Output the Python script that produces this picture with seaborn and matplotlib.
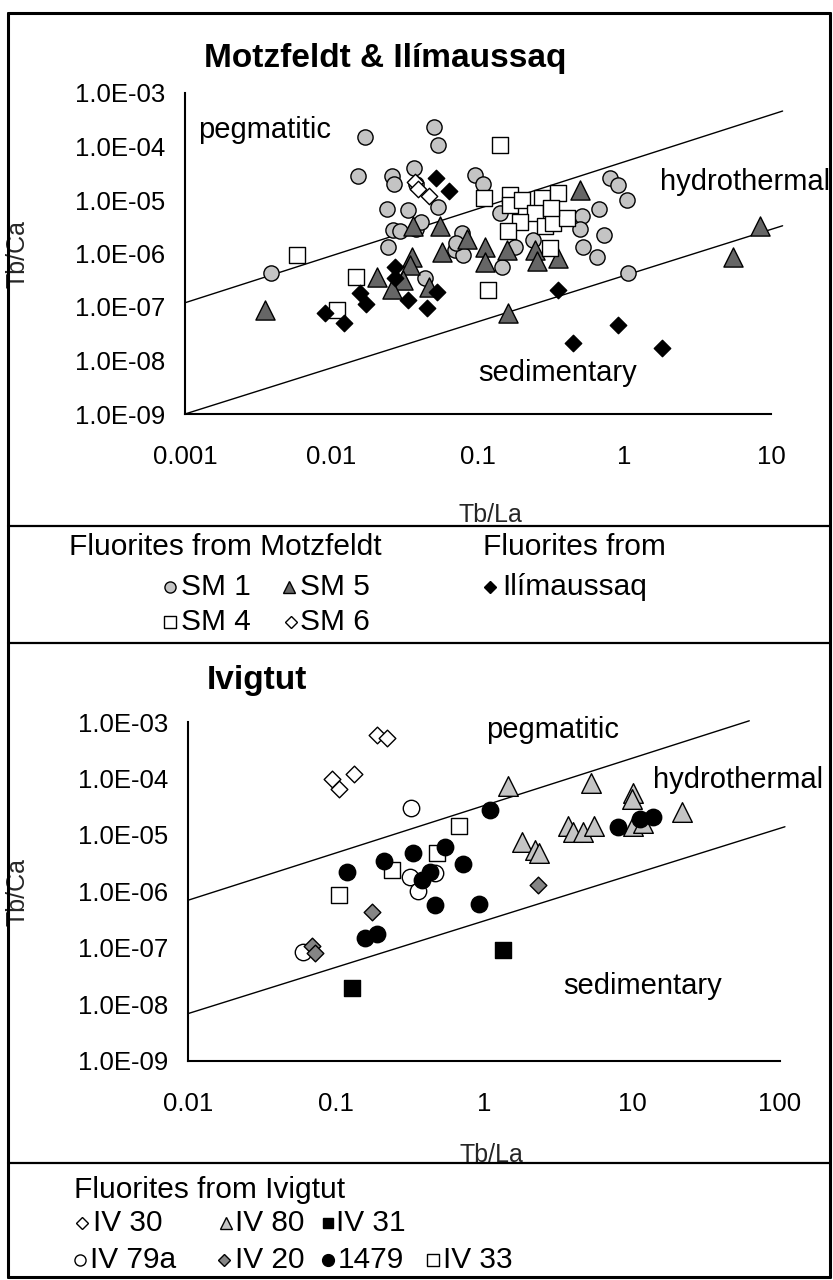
import numpy as np
import pandas as pd
import matplotlib
matplotlib.use("Agg")
import matplotlib.pyplot as plt
from matplotlib.lines import Line2D
from matplotlib.ticker import FixedLocator, FuncFormatter, NullLocator
import seaborn as sns

# ---------------- Motzfeldt & Ilímaussaq ----------------
sm1_x = [0.00386, 0.0168, 0.0151, 0.0503, 0.0536, 0.026, 0.0268, 0.0366, 0.0377, 0.0238,
         0.0334, 0.0264, 0.0294, 0.0244, 0.0377, 0.0536, 0.0773, 0.0697, 0.0794, 0.0955,
         0.109, 0.0435, 0.141, 0.796, 0.908, 1.035, 0.675, 0.51, 0.497, 0.724,
         0.524, 0.646, 1.06, 0.238, 0.145, 0.179, 0.041, 0.0713]
sm1_y = [4.3e-7, 1.5e-4, 2.8e-5, 2.3e-4, 1.07e-4, 2.8e-5, 2.0e-5, 3.9e-5, 2.0e-5, 6.7e-6,
         6.5e-6, 2.7e-6, 2.6e-6, 1.34e-6, 2.9e-6, 7.4e-6, 2.4e-6, 1.17e-6, 9.3e-7, 2.9e-5,
         2.0e-5, 3.5e-7, 5.6e-6, 2.6e-5, 1.9e-5, 1.0e-5, 6.9e-6, 5.0e-6, 2.9e-6, 2.2e-6,
         1.35e-6, 8.7e-7, 4.4e-7, 1.8e-6, 5.5e-7, 1.35e-6, 3.9e-6, 1.55e-6]

sm5_x = [0.00352, 0.0361, 0.055, 0.0838, 0.0565, 0.0353, 0.0343, 0.0204, 0.0309, 0.0258,
         0.0466, 0.112, 0.112, 0.497, 8.4, 5.5, 0.161, 0.157, 0.245, 0.251, 0.353]
sm5_y = [8.7e-8, 3.2e-6, 3.2e-6, 1.9e-6, 1.07e-6, 8.7e-7, 6.1e-7, 3.7e-7, 3.2e-7, 2.2e-7,
         2.4e-7, 1.35e-6, 7.0e-7, 1.55e-5, 3.2e-6, 8.7e-7, 7.6e-8, 1.17e-6, 1.17e-6, 7.1e-7, 8.1e-7]

sm4_x = [0.00578, 0.0147, 0.0109, 0.141, 0.11, 0.165, 0.165, 0.199, 0.272, 0.353,
         0.245, 0.194, 0.161, 0.286, 0.323, 0.403, 0.31, 0.117, 0.317]
sm4_y = [9.3e-7, 3.7e-7, 8.7e-8, 1.07e-4, 1.07e-5, 1.23e-5, 8.1e-6, 1.0e-5, 1.07e-5, 1.34e-5,
         5.6e-6, 3.9e-6, 2.6e-6, 3.2e-6, 3.7e-6, 4.6e-6, 1.26e-6, 2.1e-7, 7.0e-6]

sm6_x = [0.037, 0.039, 0.046]
sm6_y = [2.2e-5, 1.6e-5, 1.2e-5]

ili_x = [0.00904, 0.0122, 0.0157, 0.0172, 0.0271, 0.027, 0.0334, 0.0451, 0.0523, 0.0516,
         0.0637, 0.353, 0.908, 0.443, 1.79]
ili_y = [7.6e-8, 5.0e-8, 1.8e-7, 1.15e-7, 5.6e-7, 3.5e-7, 1.35e-7, 9.5e-8, 1.9e-7, 2.6e-5,
         1.45e-5, 2.1e-7, 4.6e-8, 2.1e-8, 1.7e-8]

# field boundaries (end points of each line)
top_upper_x, top_upper_y = [0.001, 12.0], [1.2e-7, 4.6e-4]
top_lower_x, top_lower_y = [0.001, 12.0], [1.0e-9, 3.3e-6]

# ---------------- Ivigtut ----------------
iv30_x = [0.188, 0.22, 0.0935, 0.104, 0.132]
iv30_y = [5.9e-4, 5.2e-4, 9.7e-5, 6.5e-5, 1.2e-4]

iv79a_x = [0.321, 0.316, 0.36, 0.467, 0.0601]
iv79a_y = [3.0e-5, 1.8e-6, 1.0e-6, 2.1e-6, 8.5e-8]

iv33_x = [0.68, 0.484, 0.238, 0.104]
iv33_y = [1.44e-5, 4.9e-6, 2.4e-6, 8.7e-7]

s1479_x = [1.1, 0.119, 0.211, 0.333, 0.545, 0.717, 0.432, 0.467, 0.93, 0.157, 0.188, 0.38,
           8.1, 11.3, 13.9]
s1479_y = [2.8e-5, 2.2e-6, 3.4e-6, 4.9e-6, 6.2e-6, 3.1e-6, 2.2e-6, 5.7e-7, 6.0e-7, 1.5e-7,
           1.8e-7, 1.6e-6, 1.4e-5, 1.9e-5, 2.1e-5]

iv20_x = [0.176, 0.0692, 0.0721, 2.33]
iv20_y = [4.4e-7, 1.1e-7, 8.1e-8, 1.3e-6]

iv31_x = [0.128, 1.35]
iv31_y = [1.95e-8, 9.1e-8]

iv80_x = [1.46, 5.3, 10.2, 9.95, 21.7, 1.8, 2.2, 2.37, 3.7, 4.0, 4.7, 5.5, 10.1, 11.9]
iv80_y = [7.4e-5, 8.2e-5, 5.5e-5, 4.3e-5, 2.6e-5, 7.6e-6, 5.4e-6, 4.8e-6, 1.42e-5, 1.15e-5,
          1.15e-5, 1.44e-5, 1.44e-5, 1.6e-5]

bot_upper_x, bot_upper_y = [0.01, 62.0], [7.0e-7, 1.05e-3]
bot_lower_x, bot_lower_y = [0.01, 108.0], [6.9e-9, 1.4e-5]

top_xticks = [0.001, 0.01, 0.1, 1, 10]
bot_xticks = [0.01, 0.1, 1, 10, 100]
y_ticks = [1e-9, 1e-8, 1e-7, 1e-6, 1e-5, 1e-4, 1e-3]

# ---------------- styling ----------------
sns.set_style("white")
plt.rcParams['font.family'] = ['Liberation Sans', 'DejaVu Sans']
plt.rcParams['text.color'] = 'black'

TICK_FS = 18.5
AXLAB_FS = 18
NOTE_FS = 21
LEG_FS = 21.5
TITLE_FS = 24

W, H = 833, 1280
fig = plt.figure(figsize=(W / 100, H / 100), dpi=100)
fig.patch.set_facecolor('white')


def px_axes(left, top, right, bottom):
    return fig.add_axes([left / W, 1 - bottom / H, (right - left) / W, (bottom - top) / H])


def style_axes(ax, xticks):
    ax.set_xscale('log')
    ax.set_yscale('log')
    ax.set_xlim(xticks[0], xticks[-1])
    ax.set_ylim(1e-9, 1e-3)
    ax.xaxis.set_major_locator(FixedLocator(xticks))
    ax.xaxis.set_minor_locator(NullLocator())
    ax.yaxis.set_major_locator(FixedLocator(y_ticks))
    ax.yaxis.set_minor_locator(NullLocator())
    ax.xaxis.set_major_formatter(FuncFormatter(lambda v, p: f"{v:g}"))
    ax.yaxis.set_major_formatter(FuncFormatter(lambda v, p: f"{v:.1E}"))
    for s in ['top', 'right']:
        ax.spines[s].set_visible(False)
    for s in ['left', 'bottom']:
        ax.spines[s].set_linewidth(1.5)
        ax.spines[s].set_color('black')
    ax.tick_params(direction='out', length=6, width=1.5, labelsize=TICK_FS, color='black',
                   labelcolor='black')
    ax.tick_params(axis='x', pad=16)
    ax.tick_params(axis='y', pad=8)
    ax.set_facecolor('none')
    ax.grid(False)


def scatter(ax, xs, ys, marker, size, face, edge='black', lw=1.0, z=3):
    df = pd.DataFrame({'x': xs, 'y': ys})
    sns.scatterplot(data=df, x='x', y='y', ax=ax, marker=marker, s=size, color=face,
                    edgecolor=edge, linewidth=lw, zorder=z, legend=False)


LIGHT = '#c4c4c4'
DARK = '#666666'
MID = '#858585'

# ---- top panel ----
ax1 = px_axes(185, 93, 771, 414)
style_axes(ax1, top_xticks)
ax1.plot(top_upper_x, top_upper_y, color='black', lw=1.0, clip_on=False, zorder=2)
ax1.plot(top_lower_x, top_lower_y, color='black', lw=1.0, clip_on=False, zorder=2)
scatter(ax1, sm1_x, sm1_y, 'o', 120, LIGHT, z=3)
scatter(ax1, sm5_x, sm5_y, '^', 190, DARK, z=4)
scatter(ax1, sm4_x, sm4_y, 's', 140, 'white', z=5)
scatter(ax1, sm6_x, sm6_y, 'D', 70, 'white', z=6)
scatter(ax1, ili_x, ili_y, 'D', 70, 'black', z=7)
ax1.set_xlabel('Tb/La', fontsize=AXLAB_FS)
ax1.set_ylabel('Tb/Ca', fontsize=AXLAB_FS)
ax1.xaxis.set_label_coords((490 - 185) / 586, (414 - 503) / 321)
ax1.yaxis.set_label_coords((30 - 185) / 586, 0.5)
ax1.text(0.00123, 2.0e-4, 'pegmatitic', fontsize=NOTE_FS, ha='left', va='center')
ax1.text(1.75, 2.2e-5, 'hydrothermal', fontsize=NOTE_FS, ha='left', va='center', clip_on=False)
ax1.text(0.1, 5.9e-9, 'sedimentary', fontsize=NOTE_FS, ha='left', va='center')

fig.text(204 / W, 1 - 58 / H, 'Motzfeldt & Ilímaussaq', fontsize=TITLE_FS, fontweight='bold',
         ha='left', va='center')

# ---- bottom panel ----
ax2 = px_axes(188, 722, 780, 1061)
style_axes(ax2, bot_xticks)
ax2.plot(bot_upper_x, bot_upper_y, color='black', lw=1.0, clip_on=False, zorder=2)
ax2.plot(bot_lower_x, bot_lower_y, color='black', lw=1.0, clip_on=False, zorder=2)
scatter(ax2, iv30_x, iv30_y, 'D', 72, 'white', z=3)
scatter(ax2, iv80_x, iv80_y, '^', 200, LIGHT, z=4)
scatter(ax2, iv79a_x, iv79a_y, 'o', 140, 'white', z=5)
scatter(ax2, iv33_x, iv33_y, 's', 140, 'white', z=5)
scatter(ax2, iv20_x, iv20_y, 'D', 72, MID, z=6)
scatter(ax2, s1479_x, s1479_y, 'o', 140, 'black', z=7)
scatter(ax2, iv31_x, iv31_y, 's', 120, 'black', z=8)
ax2.set_xlabel('Tb/La', fontsize=AXLAB_FS)
ax2.set_ylabel('Tb/Ca', fontsize=AXLAB_FS)
ax2.xaxis.set_label_coords((491 - 188) / 592, (1061 - 1143) / 339)
ax2.yaxis.set_label_coords((30 - 188) / 592, 0.5)
ax2.text(1.04, 7.2e-4, 'pegmatitic', fontsize=NOTE_FS, ha='left', va='center')
ax2.text(13.9, 9.4e-5, 'hydrothermal', fontsize=NOTE_FS, ha='left', va='center', clip_on=False)
ax2.text(3.42, 2.1e-8, 'sedimentary', fontsize=NOTE_FS, ha='left', va='center')

fig.text(207 / W, 1 - 680 / H, 'Ivigtut', fontsize=TITLE_FS, fontweight='bold',
         ha='left', va='center')

# ---- frame and dividers ----
def hline(y, x0=8, x1=830, lw=2.2):
    fig.add_artist(Line2D([x0 / W, x1 / W], [1 - y / H, 1 - y / H], color='black', lw=lw,
                          transform=fig.transFigure))


def vline(x, y0=13, y1=1277, lw=2.2):
    fig.add_artist(Line2D([x / W, x / W], [1 - y0 / H, 1 - y1 / H], color='black', lw=lw,
                          transform=fig.transFigure))


hline(13)
hline(1277)
vline(8)
vline(830)
hline(526, lw=1.6)
hline(643, lw=1.6)
hline(1163, lw=1.6)


# ---- legend keys ----
def key(x, y, marker, face, ms):
    fig.add_artist(Line2D([x / W], [1 - y / H], marker=marker, markersize=ms, linestyle='',
                          markerfacecolor=face, markeredgecolor='black', markeredgewidth=1.0,
                          transform=fig.transFigure))


def label(x, y, s, size=LEG_FS):
    fig.text(x / W, 1 - y / H, s, fontsize=size, ha='left', va='center')


label(69, 547, 'Fluorites from Motzfeldt')
key(170, 587, 'o', LIGHT, 8)
label(181, 587, 'SM 1')
key(289, 587, '^', DARK, 9)
label(300, 587, 'SM 5')
key(170, 622, 's', 'white', 8)
label(181, 622, 'SM 4')
key(291, 622, 'D', 'white', 6)
label(300, 622, 'SM 6')
label(483, 547, 'Fluorites from')
key(490, 587, 'D', 'black', 6.5)
label(502, 587, 'Ilímaussaq')

label(74, 1190, 'Fluorites from Ivigtut')
key(82, 1223, 'D', 'white', 6)
label(93, 1223, 'IV 30')
key(226, 1223, '^', LIGHT, 9)
label(235, 1223, 'IV 80')
key(328, 1223, 's', 'black', 7)
label(336, 1223, 'IV 31')
key(80, 1260, 'o', 'white', 8)
label(90, 1260, 'IV 79a')
key(224, 1260, 'D', MID, 6)
label(235, 1260, 'IV 20')
key(328, 1260, 'o', 'black', 8.5)
label(338, 1260, '1479')
key(433, 1260, 's', 'white', 8)
label(443, 1260, 'IV 33')

fig.savefig('out.png', dpi=100, facecolor='white')
